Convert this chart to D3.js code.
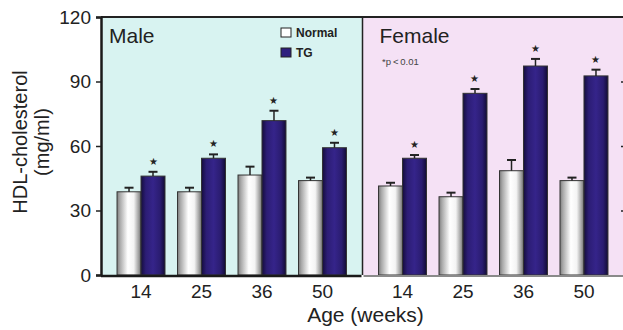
<!DOCTYPE html>
<html>
<head>
<meta charset="utf-8">
<script src="https://cdn.jsdelivr.net/npm/d3@7"></script>
<style>
  body { margin: 0; background: #fff; }
  text { font-family: "Liberation Sans", Arial, sans-serif; fill: #222; }
</style>
</head>
<body>
<div id="chart"></div>
<script>
const ages = ['14', '25', '36', '50'];
const series = ['Normal', 'TG'];
const panels = ['Male', 'Female'];
const yTicks = [0, 30, 60, 90, 120];

// means
const maleNormal = [38.7, 38.7, 46.5, 43.9];
const maleTG = [46.0, 54.3, 71.8, 59.2];
const femaleNormal = [41.4, 36.4, 48.5, 43.9];
const femaleTG = [54.3, 84.5, 97.2, 92.6];
// top of error bars
const maleNormalErr = [40.6, 40.6, 50.4, 45.3];
const maleTGErr = [48.0, 56.1, 76.4, 61.5];
const femaleNormalErr = [42.9, 38.3, 53.5, 45.3];
const femaleTGErr = [55.8, 86.5, 100.5, 95.5];

const rows = [];
panels.forEach((p, pi) => {
  const vals = pi === 0 ? [maleNormal, maleTG] : [femaleNormal, femaleTG];
  const errs = pi === 0 ? [maleNormalErr, maleTGErr] : [femaleNormalErr, femaleTGErr];
  ages.forEach((a, i) => {
    series.forEach((s, si) => {
      rows.push({panel: p, age: a, series: s, value: vals[si][i], err: errs[si][i]});
    });
  });
});

const W = 623, H = 330;
const margin = {top: 17, left: 101, bottom: 55};
const panelW = 261.5;
const plotH = H - margin.top - margin.bottom;

const svg = d3.select("#chart")
  .append("svg")
  .attr("width", W)
  .attr("height", H);

const defs = svg.append("defs");
const gN = defs.append("linearGradient").attr("id", "gNormal");
[[0, "#7d7d7d"], [0.12, "#a8a8a8"], [0.45, "#ffffff"], [0.7, "#f4f4f4"], [0.9, "#a0a0a0"], [1, "#6e6e6e"]]
  .forEach(([o, c]) => gN.append("stop").attr("offset", o).attr("stop-color", c));
const gT = defs.append("linearGradient").attr("id", "gTG");
[[0, "#150d3d"], [0.2, "#2c1d75"], [0.5, "#35248a"], [0.8, "#2a1c70"], [1, "#120b35"]]
  .forEach(([o, c]) => gT.append("stop").attr("offset", o).attr("stop-color", c));

const panelX = d3.scaleBand()
  .domain(panels)
  .range([margin.left, margin.left + 2 * panelW])
  .padding(0);

const y = d3.scaleLinear()
  .domain([0, 120])
  .range([margin.top + plotH, margin.top]);

const bgColor = {Male: "#d8f3f1", Female: "#f5e1f5"};

// panel backgrounds
svg.selectAll("rect.bg")
  .data(panels)
  .join("rect")
  .attr("class", "bg")
  .attr("x", d => panelX(d))
  .attr("y", y(120))
  .attr("width", panelX.bandwidth())
  .attr("height", y(0) - y(120))
  .attr("fill", d => bgColor[d]);

const x = d3.scaleBand()
  .domain(ages)
  .range([0, panelX.bandwidth()])
  .paddingInner(0.207)
  .paddingOuter(0.265);

const xs = d3.scaleBand()
  .domain(series)
  .range([0, x.bandwidth()]);

const fillFor = {Normal: "url(#gNormal)", TG: "url(#gTG)"};

const g = svg.append("g");

// bars
g.selectAll("rect.bar")
  .data(rows)
  .join("rect")
  .attr("class", "bar")
  .attr("x", d => panelX(d.panel) + x(d.age) + xs(d.series))
  .attr("y", d => y(d.value))
  .attr("width", xs.bandwidth())
  .attr("height", d => y(0) - y(d.value))
  .attr("fill", d => fillFor[d.series])
  .attr("stroke", "#333")
  .attr("stroke-width", 1);

// error bars
const cx = d => panelX(d.panel) + x(d.age) + xs(d.series) + xs.bandwidth() / 2;
g.selectAll("line.err")
  .data(rows)
  .join("line")
  .attr("x1", cx).attr("x2", cx)
  .attr("y1", d => y(d.value))
  .attr("y2", d => y(d.err))
  .attr("stroke", "#222")
  .attr("stroke-width", 1.5);
g.selectAll("line.cap")
  .data(rows)
  .join("line")
  .attr("x1", d => cx(d) - 4.5).attr("x2", d => cx(d) + 4.5)
  .attr("y1", d => y(d.err)).attr("y2", d => y(d.err))
  .attr("stroke", "#222")
  .attr("stroke-width", 2);

// significance stars on TG bars
g.selectAll("text.star")
  .data(rows.filter(d => d.series === "TG"))
  .join("text")
  .attr("x", cx)
  .attr("y", d => y(d.err) - 7)
  .attr("text-anchor", "middle")
  .style("font-size", "10px")
  .text("\u2605");

// panel borders
svg.append("line")
  .attr("x1", margin.left).attr("x2", W)
  .attr("y1", y(120)).attr("y2", y(120))
  .attr("stroke", "#222").attr("stroke-width", 2);
svg.append("line")
  .attr("x1", panelX("Female")).attr("x2", panelX("Female"))
  .attr("y1", y(120)).attr("y2", y(0))
  .attr("stroke", "#222").attr("stroke-width", 1.5);
// bottom lines
svg.append("line")
  .attr("x1", margin.left).attr("x2", panelX("Female") - 1)
  .attr("y1", y(0) + 1).attr("y2", y(0) + 1)
  .attr("stroke", "#1a1a1a").attr("stroke-width", 2.5);
svg.append("line")
  .attr("x1", panelX("Female") + 1).attr("x2", W)
  .attr("y1", y(0) + 1).attr("y2", y(0) + 1)
  .attr("stroke", "#8a8a8a").attr("stroke-width", 2);

// y axis
const yAxis = svg.append("g")
  .attr("transform", `translate(${margin.left},0)`)
  .call(d3.axisLeft(y).tickValues(yTicks).tickSize(5).tickPadding(5));
yAxis.select(".domain").attr("stroke", "#1a1a1a").attr("stroke-width", 2.5);
yAxis.selectAll(".tick line").attr("stroke", "#222").attr("stroke-width", 1.5);
yAxis.selectAll("text")
  .style("font-size", "19px")
  .style("font-family", "'Liberation Sans', Arial, sans-serif")
  .attr("fill", "#222");

// right-hand tick stubs at the cut edge of the female panel
svg.append("g")
  .attr("transform", `translate(${panelX("Female") + panelX.bandwidth()},0)`)
  .call(d3.axisRight(y).tickValues([30, 60, 90]).tickSize(-3).tickFormat(""))
  .call(a => a.select(".domain").remove())
  .selectAll(".tick line").attr("stroke", "#222").attr("stroke-width", 1.5);

// x tick labels
const labelRows = [];
panels.forEach(p => ages.forEach(a => labelRows.push({panel: p, age: a})));
svg.selectAll("text.xlab")
  .data(labelRows)
  .join("text")
  .attr("x", d => panelX(d.panel) + x(d.age) + x.bandwidth() / 2)
  .attr("y", 298)
  .attr("text-anchor", "middle")
  .style("font-size", "19px")
  .text(d => d.age);

svg.append("text")
  .attr("x", panelX("Female") + 3)
  .attr("y", 322)
  .attr("text-anchor", "middle")
  .style("font-size", "21px")
  .text("Age (weeks)");

// y title
svg.append("text")
  .attr("transform", "translate(27,142) rotate(-90)")
  .attr("text-anchor", "middle")
  .style("font-size", "20px")
  .text("HDL-cholesterol");
svg.append("text")
  .attr("transform", "translate(49,142) rotate(-90)")
  .attr("text-anchor", "middle")
  .style("font-size", "20px")
  .text("(mg/ml)");

// panel titles
svg.selectAll("text.ptitle")
  .data(panels)
  .join("text")
  .attr("x", d => panelX(d) + (d === "Male" ? 8 : 17))
  .attr("y", 43)
  .style("font-size", "21px")
  .text(d => d);

svg.append("text")
  .attr("x", 382)
  .attr("y", 65)
  .style("font-size", "9.5px")
  .style("fill", "#444")
  .text("*p\u2009<\u20090.01");

// legend
const leg = svg.append("g").attr("transform", "translate(281,28)");
series.forEach((s, i) => {
  leg.append("rect")
    .attr("x", 0).attr("y", i * 20)
    .attr("width", 10).attr("height", 9)
    .attr("fill", s === "Normal" ? "#fff" : "#2e1f7e")
    .attr("stroke", "#222").attr("stroke-width", 1);
  leg.append("text")
    .attr("x", 15).attr("y", i * 20 + 9)
    .style("font-size", "12px")
    .style("font-weight", "bold")
    .text(s);
});
</script>
</body>
</html>
